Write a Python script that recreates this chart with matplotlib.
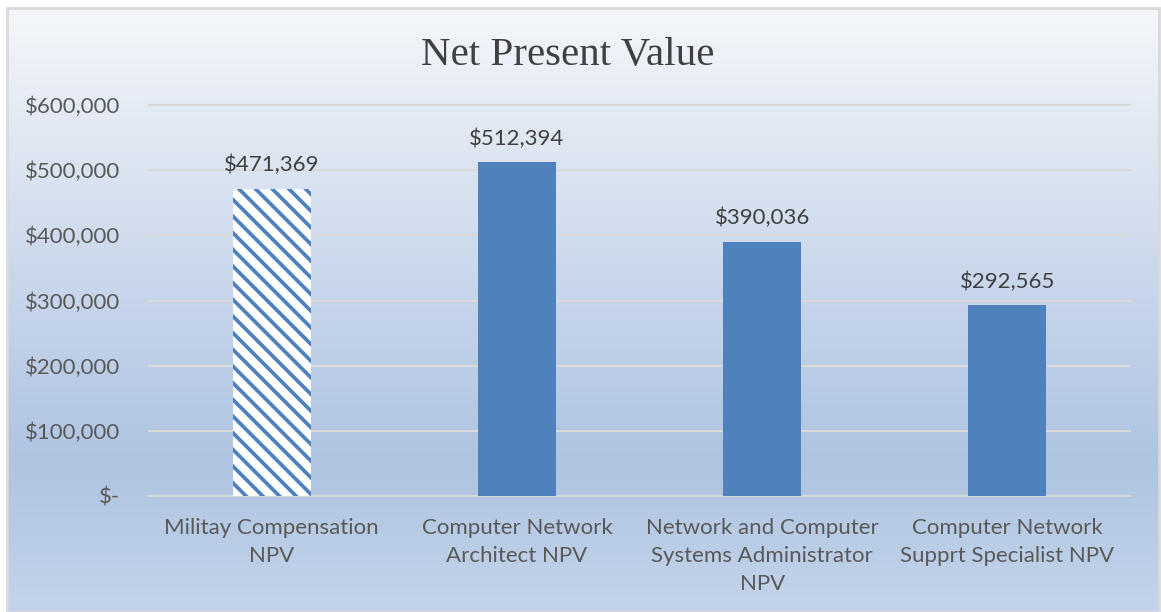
import numpy as np
import matplotlib
matplotlib.use("Agg")
import matplotlib.pyplot as plt
from matplotlib.colors import LinearSegmentedColormap
from matplotlib.patches import Rectangle

categories = ["Militay Compensation\nNPV",
              "Computer Network\nArchitect NPV",
              "Network and Computer\nSystems Administrator\nNPV",
              "Computer Network\nSupprt Specialist NPV"]
values = [471369, 512394, 390036, 292565]
tick_values = [0, 100000, 200000, 300000, 400000, 500000, 600000]
tick_labels = ["$-", "$100,000", "$200,000", "$300,000", "$400,000", "$500,000", "$600,000"]
title = "Net Present Value"

FONT = "Lato"
FS = 16

W, H = 1161, 612
fig = plt.figure(figsize=(W / 100, H / 100), dpi=100)
fig.patch.set_facecolor("white")

# background gradient panel
bx0, by0 = 7 / W, 0.0
bw, bh = (1159 - 7) / W, (H - 9) / H
bg = fig.add_axes([bx0, by0, bw, bh], zorder=0)
bg.set_axis_off()
cmap = LinearSegmentedColormap.from_list(
    "bg", [(0.0, "#C3D4EA"), (0.25, "#AEC4E1"), (0.55, "#C9D7EB"),
           (0.85, "#E6ECF5"), (1.0, "#F4F7FB")])
grad = np.linspace(0, 1, 256).reshape(-1, 1)
bg.imshow(grad, aspect="auto", cmap=cmap, origin="lower", extent=[0, 1, 0, 1])
bg.set_xlim(0, 1)
bg.set_ylim(0, 1)
fig.patches.append(Rectangle((bx0, by0), bw, bh + 0.001, transform=fig.transFigure,
                             fill=False, edgecolor="#D9D9D9", linewidth=2, zorder=1))

ax = fig.add_axes([149 / W, 1 - 496 / H, (1130 - 149) / W, (496 - 105) / H], zorder=2)
ax.patch.set_alpha(0)
for s in ax.spines.values():
    s.set_visible(False)

x = np.arange(len(categories))
ax.set_xlim(-0.5, len(categories) - 0.5)
ax.set_ylim(0, 600000)

for v in tick_values:
    ax.axhline(v, color="#D9D9D9", lw=1.5, zorder=1, clip_on=False)

plt.rcParams["hatch.linewidth"] = 2.7
for i, (xi, v) in enumerate(zip(x, values)):
    if i == 0:
        ax.bar(xi, v, width=0.318, facecolor="white", edgecolor="#4F81BD",
               hatch="\\\\", linewidth=0, zorder=2)
    else:
        ax.bar(xi, v, width=0.318, color="#4F81BD", linewidth=0, zorder=2)
    ax.annotate(f"${v:,.0f}", (xi, v), xytext=(0, 17), textcoords="offset points",
                ha="center", va="center", fontsize=FS, color="#404040", family=FONT)

ax.set_yticks(tick_values)
ax.set_yticklabels(tick_labels, fontsize=FS, color="#595959", family=FONT)
ax.set_xticks(x)
ax.set_xticklabels(categories, fontsize=FS, color="#595959", family=FONT,
                   linespacing=1.5, va="top")
ax.tick_params(axis="both", length=0)
ax.tick_params(axis="y", pad=21)
ax.tick_params(axis="x", pad=16)

fig.text(568 / W, 1 - 55 / H, title, ha="center", va="center", fontsize=29.5,
         color="#404040", family="Liberation Serif")

fig.savefig("out.png", dpi=100)
